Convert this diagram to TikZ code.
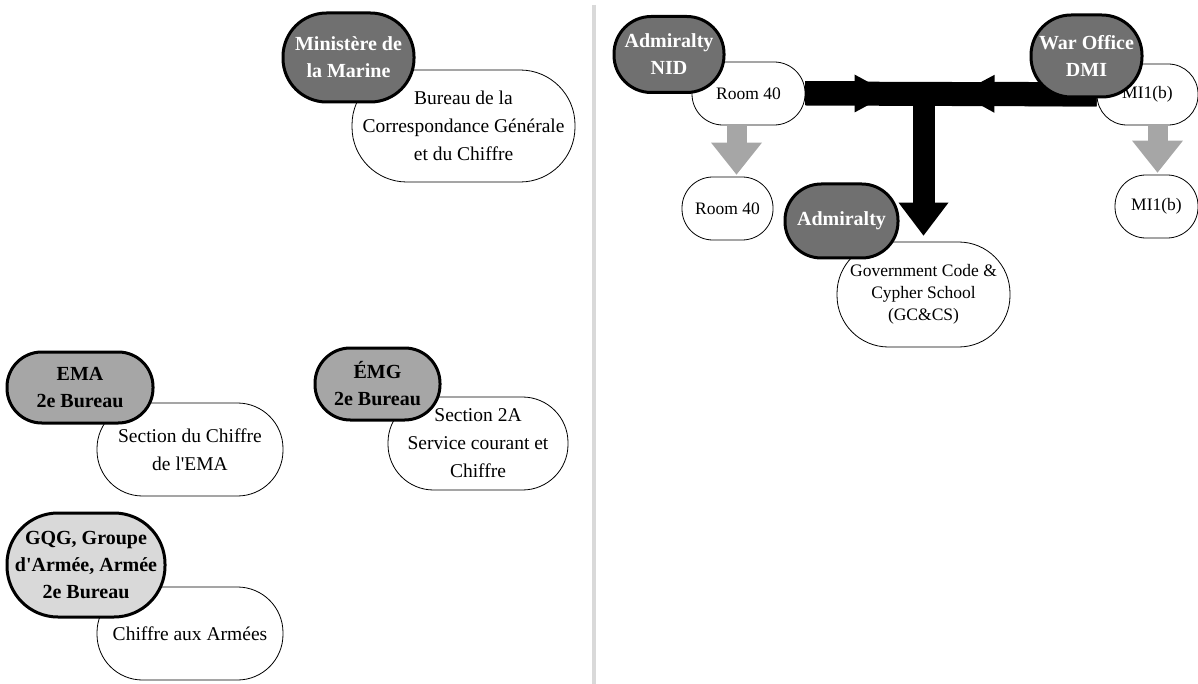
\documentclass[tikz,border=0pt]{standalone}
\usepackage{fontspec}
\setmainfont{Liberation Serif}
\usetikzlibrary{arrows.meta}
\definecolor{darkgrey}{RGB}{112,112,112}
\definecolor{midgrey}{RGB}{166,166,166}
\definecolor{lightgrey}{RGB}{217,217,217}
\definecolor{arrowgrey}{RGB}{166,166,166}
\begin{document}
\begin{tikzpicture}[x=1pt, y=-1pt]
    % Styles
    \tikzstyle{pill}=[minimum height=#1, rounded corners=0.49*#1]
    \tikzstyle{office}=[draw, line width=3pt, fill=darkgrey, text=white, align=center, inner sep=0pt, font=\fontsize{20}{27}\selectfont\bfseries]
    \tikzstyle{branch}=[office, fill=midgrey, text=black]
    \tikzstyle{command}=[office, fill=lightgrey, text=black]
    \tikzstyle{unit}=[draw, line width=0.8pt, fill=white, align=center, inner sep=0pt, font=\fontsize{19.5}{28}\selectfont]
    \tikzstyle{room}=[unit, font=\fontsize{17.5}{22}\selectfont]
    \tikzstyle{trunk}=[line width=24pt, black]
    \tikzstyle{feed}=[trunk, -{Triangle[length=35pt, width=38pt, line width=0pt]}]
    \tikzstyle{merge}=[line width=22pt, black, -{Triangle[length=33pt, width=50pt, line width=0pt]}]
    \tikzstyle{lineage}=[line width=20pt, arrowgrey, -{Triangle[length=32pt, width=51pt, line width=0pt]}]
    \tikzstyle{divider}=[line width=4pt, lightgrey]

    \useasboundingbox (0,0) rectangle (1198,684);

    % France
    \node[unit, minimum width=223, pill=112] (bcg) at (463.5,126) {Bureau de la\\Correspondance Générale\\et du Chiffre};
    \node[office, minimum width=131, pill=89] (ministere) at (348.5,57.5) {Ministère de\\la Marine};

    \node[unit, minimum width=186, pill=93] (secema) at (190,449.5) {Section du Chiffre\\de l\textquotesingle EMA};
    \node[branch, minimum width=146, pill=71] (ema) at (80,387.5) {EMA\\2e Bureau};

    \node[unit, minimum width=180, pill=93] (sec2a) at (478,443.5) {Section 2A\\Service courant et\\Chiffre};
    \node[branch, minimum width=125, pill=72] (emg) at (377.5,384) {ÉMG\\2e Bureau};

    \node[unit, minimum width=186, pill=93] (armees) at (190,633.5) {Chiffre aux Armées};
    \node[command, minimum width=158, pill=104] (gqg) at (86,565) {GQG, Groupe\\d\textquotesingle Armée, Armée\\2e Bureau};

    % Separazione
    \draw[divider] (594,5) -- (594,684);

    % Britain
    \node[room, minimum width=113, pill=63] (room40a) at (748.5,93.5) {Room 40};
    \node[office, minimum width=110, pill=76] (nid) at (669,54.5) {Admiralty\\NID};
    \node[room, minimum width=91, pill=63] (room40b) at (727.5,208.5) {Room 40};

    \node[room, minimum width=101, pill=61] (mi1a) at (1147.5,94.5) {MI1(b)};
    \node[room, minimum width=83, pill=63] (mi1b) at (1156.5,206.5) {MI1(b)};

    \node[room, minimum width=173, pill=105] (gccs) at (923.5,294.5) {Government Code \&\\Cypher School\\(GC\&CS)};
    \node[office, minimum width=113, pill=74] (admiralty) at (841.5,221) {Admiralty};

    % Merger arrows
    \coordinate (hub) at (gccs.north |- room40a.east);
    \draw[trunk] (room40a.east) -- (mi1a.west);
    \draw[feed] (room40a.east) -- ([xshift=-34]hub);
    \draw[feed] (mi1a.west) -- ([xshift=36]hub);
    \draw[merge] (hub) -- ([yshift=6pt]gccs.north);

    \draw[lineage] ([xshift=-12]room40a.south) -- ([xshift=9, yshift=2pt]room40b.north);
    \draw[lineage] ([xshift=10]mi1a.south) -- ([xshift=1, yshift=2pt]mi1b.north);

    % War Office over the bar
    \node[office, minimum width=111, pill=82] (waroffice) at (1086.5,56) {War Office\\DMI};
\end{tikzpicture}
\end{document}
